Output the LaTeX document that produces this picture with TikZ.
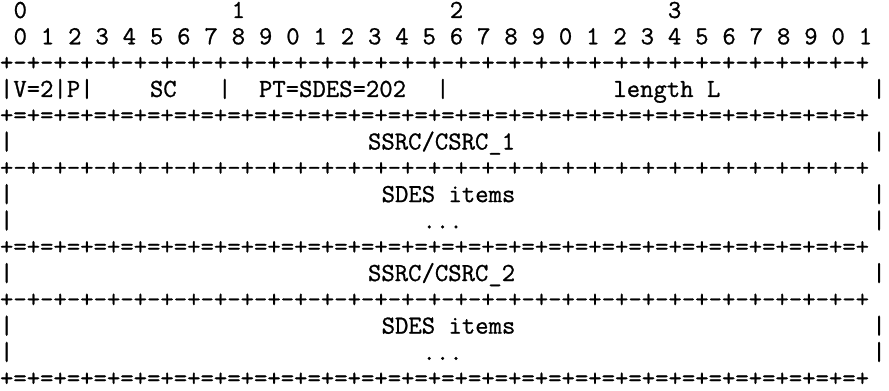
\documentclass[tikz,border=0pt]{standalone}
\usepackage{fontspec}
\newfontfamily\pktmono{Latin Modern Mono}[FakeBold=0.9]

% packet layout in character cells: x = one column, y = one text line
\newcommand\pktfont{\pktmono\fontsize{12.98}{13}\selectfont}
\newcommand\bitrule[1]{\foreach \pos in {1,...,32}{+#1}+}

\begin{document}
\begin{tikzpicture}[
    x=6.815pt, y=-13.15pt,
    txt/.style={anchor=base west, inner sep=0pt, outer sep=0pt, font=\pktfont}
  ]
  \useasboundingbox (0,-0.684) rectangle (65.22,14.144);

  % bit ruler
  \foreach \n in {0,...,3}
    \node[txt] (dec\n) at ({16*\n+1},0) {\n};
  \foreach \pos [evaluate=\pos as \dig using {int(mod(\pos,10))}] in {0,...,31}
    \node[txt] (bit\pos) at ({2*\pos+1},1) {\dig};

  % borders between words
  \foreach \r/\f in {2/-,4/=,6/-,9/=,11/-,14/=}
    \node[txt] (rule\r) at (0,\r) {\bitrule{\f}};

  % header word
  \node[txt] (vp) at (0,3) {|V=2|P|};
  \node[txt] (cnt) at (11,3) {SC};
  \node[txt] (bar16) at (16,3) {|};
  \node[txt] (type) at (19,3) {PT=SDES=202};
  \node[txt] (bar32) at (32,3) {|};
  \node[txt] (len) at (45,3) {length L};
  \node[txt] (bar64) at (64,3) {|};

  % chunk edges
  \foreach \r in {5,7,8,10,12,13} {
    \node[txt] (lbar\r) at (0,\r) {|};
    \node[txt] (rbar\r) at (64,\r) {|};
  }
  \node[txt] (ssrc1) at (27,5) {SSRC/CSRC\_1};
  \node[txt] (items1) at (28,7) {SDES items};
  \node[txt] (more1) at (31,8) {...};
  \node[txt] (ssrc2) at (27,10) {SSRC/CSRC\_2};
  \node[txt] (items2) at (28,12) {SDES items};
  \node[txt] (more2) at (31,13) {...};
\end{tikzpicture}
\end{document}
